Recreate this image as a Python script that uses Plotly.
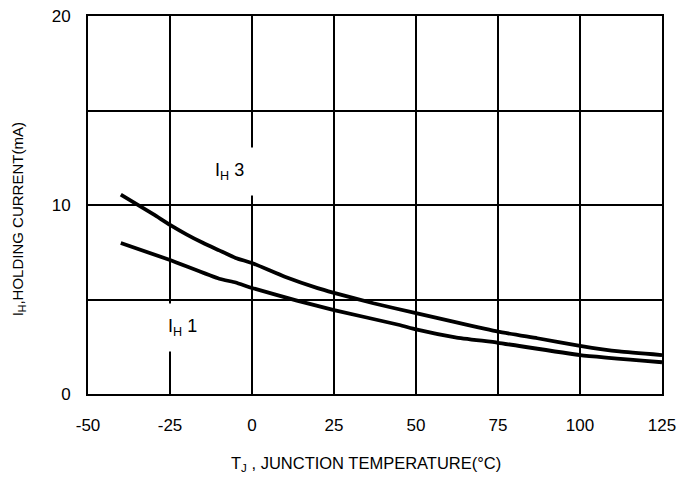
import plotly.graph_objects as go

# Data
ih3_x = [-40, -30, -25, -20, -15, -10, -5, 0, 10, 20, 25, 37, 50, 62, 75, 87, 100, 112, 125]
ih3_y = [10.55, 9.5, 8.95, 8.45, 8.0, 7.6, 7.2, 6.93, 6.2, 5.6, 5.35, 4.8, 4.28, 3.8, 3.3, 2.95, 2.55, 2.25, 2.06]

ih1_x = [-40, -25, -10, -5, 0, 13.7, 25, 45, 50, 62, 75, 100, 125]
ih1_y = [7.99, 7.09, 6.1, 5.9, 5.61, 4.94, 4.44, 3.65, 3.42, 3.0, 2.71, 2.06, 1.68]

x_ticks = [-50, -25, 0, 25, 50, 75, 100, 125]
x_ticktext = ["-50", "-25", "0", "25", "50", "75", "100", "125"]
y_ticks = [0, 5, 10, 15, 20]
y_ticktext = ["0", "", "10", "", "20"]

FONT = "Liberation Sans, Arial, sans-serif"

fig = go.Figure()
for xs, ys in [(ih3_x, ih3_y), (ih1_x, ih1_y)]:
    fig.add_trace(go.Scatter(x=xs, y=ys, mode="lines",
                             line=dict(color="black", width=3.8, shape="spline", smoothing=0.4),
                             showlegend=False, hoverinfo="skip", cliponaxis=False))

fig.update_layout(
    width=680, height=481,
    margin=dict(l=88, r=18, t=16, b=87, autoexpand=False),
    paper_bgcolor="white", plot_bgcolor="white",
    font=dict(family=FONT, color="black", size=17),
    showlegend=False,
)
fig.update_xaxes(range=[-50, 125], tickvals=x_ticks, ticktext=x_ticktext, showgrid=True, gridcolor="black",
                 gridwidth=2, zeroline=False, showline=True, linecolor="black", linewidth=2, mirror=True,
                 ticks="", ticklabelstandoff=15, automargin=False, ticklabeloverflow="allow",
                 tickfont=dict(size=17, family=FONT))
fig.update_yaxes(range=[0, 20], tickvals=y_ticks, ticktext=y_ticktext, showgrid=True, gridcolor="black",
                 gridwidth=2, zeroline=False, showline=True, linecolor="black", linewidth=2, mirror=True,
                 ticks="", ticklabelstandoff=12, automargin=False, ticklabeloverflow="allow",
                 tickfont=dict(size=17, family=FONT))

fig.add_annotation(x=-7, y=11.75, xref="x", yref="y", text="I<sub>H</sub> 3", showarrow=False,
                   bgcolor="white", borderpad=12, font=dict(size=18, family=FONT))
fig.add_annotation(x=-21.3, y=3.5, xref="x", yref="y", text="I<sub>H</sub> 1", showarrow=False,
                   bgcolor="white", borderpad=12, font=dict(size=18, family=FONT))

fig.add_annotation(x=0.484, y=-0.184, xref="paper", yref="paper", text="T<sub>J</sub> , JUNCTION TEMPERATURE(°C)",
                   showarrow=False, xanchor="center", yanchor="middle", font=dict(size=16.5, family=FONT))
fig.add_annotation(x=0, y=0.462, xref="paper", yref="paper", xshift=-70, text="I<sub>H</sub>,HOLDING CURRENT(mA)",
                   textangle=-90, showarrow=False, xanchor="center", yanchor="middle", font=dict(size=15, family=FONT))

# remove the browser's default page margin so the 680x481 figure fills the window exactly
fig.write_html("out.html", config={"displayModeBar": False, "staticPlot": True},
               post_script="document.body.style.margin='0';document.body.style.overflow='hidden';")
